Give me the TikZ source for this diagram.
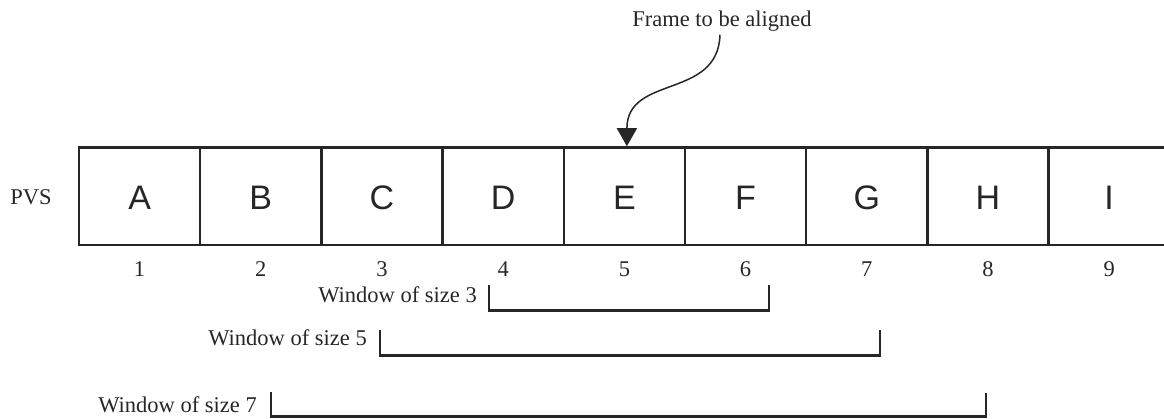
\documentclass[tikz,border=0pt]{standalone}
\usepackage{fontspec}
\setmainfont{Liberation Serif}
\newfontfamily\cellfont{Liberation Sans}
\usetikzlibrary{arrows.meta,calc}
\definecolor{ink}{RGB}{38,38,38}
\begin{document}
\begin{tikzpicture}[x=1pt,y=-1pt,
  cell/.style={draw=ink,line width=2.5pt,minimum width=121.2pt,minimum height=97.5pt,inner sep=0pt},
  letter/.style={anchor=base,inner sep=0pt,text=ink,font=\cellfont\fontsize{34}{40}\selectfont},
  serif/.style={inner sep=0pt,text=ink,font=\fontsize{22.5}{27}\selectfont},
  num/.style={serif,anchor=base},
  wlabel/.style={serif,anchor=base east},
  bracket/.style={draw=ink,line width=2.6pt,line join=miter},
  pointer/.style={draw=ink,line width=1.5pt,-{Triangle[width=20pt,length=18pt]}}]
\useasboundingbox (0,0) rectangle (1164,419);
% cells
\foreach \l [count=\i] in {A,B,C,D,E,F,G,H,I}{
  \node[cell] (b\i) at ({79+121.2*(\i-0.5)},196.25) {};
  \path (b\i.south) ++(0,-37) node[letter] (l\i) {\l};
  \path (b\i.south) ++(0,30) node[num] (n\i) {\i};
}
\node[serif,anchor=base] (pvs) at (31,205) {PVS};
% pointer
\node[serif,anchor=base] (frame) at (722,26.7) {Frame to be aligned};
\coordinate (ps) at ($(frame.south)+(-2,3)$);
\coordinate (pe) at ($(b5.north)+(2.5,0)$);
\draw[pointer] (ps) .. controls ($(ps)+(-2,65)$) and ($(pe)+(0,-72)$) .. (pe);
% windows
\node[wlabel] (w3) at (477,303) {Window of size 3};
\node[wlabel] (w5) at (367,345) {Window of size 5};
\node[wlabel] (w7) at (257,412) {Window of size 7};
\coordinate (w3a) at (489,285); \coordinate (w3b) at (769,285);
\coordinate (w5a) at (380,330); \coordinate (w5b) at (880,330);
\coordinate (w7a) at (271,392); \coordinate (w7b) at (986,393);
\draw[bracket] (w3a) -- ++(0,25.5) -| (w3b);
\draw[bracket] (w5a) -- ++(0,25.5) -| (w5b);
\draw[bracket] (w7a) -- ++(0,24.5) -| (w7b);
\end{tikzpicture}
\end{document}
